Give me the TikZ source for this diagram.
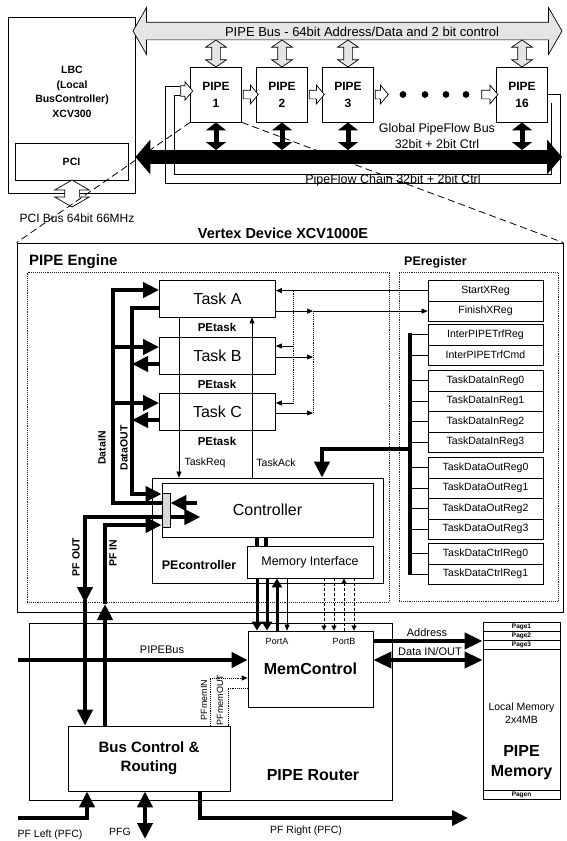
\documentclass[tikz,border=0pt]{standalone}
\usepackage{fontspec}
\setmainfont{Liberation Sans}
\usepackage{tikz}
\usetikzlibrary{shapes.arrows, arrows.meta, positioning, calc}

\begin{document}
\begin{tikzpicture}[
  x=1pt, y=-1pt,
  box/.style     = {rectangle, draw=black, line width=0.8pt, inner sep=0pt},
  dotbox/.style  = {rectangle, draw=black!85, line width=0.9pt, densely dotted, inner sep=0pt},
  lbl/.style     = {inner sep=0pt, font=\fontsize{#1}{#1}\selectfont},
  lblb/.style    = {inner sep=0pt, font=\bfseries\fontsize{#1}{#1}\selectfont},
  pipebox/.style = {box, minimum width=51pt, minimum height=55pt, align=center,
                    font=\bfseries\fontsize{12}{17}\selectfont},
  taskbox/.style = {box, minimum width=116pt, minimum height=37pt, font=\fontsize{16}{16}\selectfont},
  reg/.style     = {box, line width=0.7pt, anchor=north, minimum width=115pt, minimum height=20.5pt,
                    font=\fontsize{10.5}{10.5}\selectfont},
  pagerow/.style = {box, line width=0.6pt, anchor=north, minimum width=77pt, minimum height=9pt,
                    font=\bfseries\fontsize{6.5}{6.5}\selectfont},
  hollow/.style  = {draw=black, line width=0.7pt, fill=white},
  vlink/.style   = {hollow, fill=gray!20, double arrow, rotate=90, inner xsep=0pt, inner ysep=4pt,
                    double arrow head extend=6pt, double arrow tip angle=110, minimum height=#1},
  hlink/.style   = {hollow, single arrow, inner xsep=0pt, inner ysep=4pt,
                    single arrow head extend=5pt, single arrow tip angle=100, minimum height=#1},
  flowchain/.style = {line width=0.7pt, double=white, double distance=8pt},
  gbus/.style    = {line width=14pt, {Triangle[length=15pt,width=34pt]}-{Triangle[length=15pt,width=34pt]}},
  vbus/.style    = {line width=5pt, {Triangle[length=8pt,width=20pt]}-{Triangle[length=8pt,width=20pt]}},
  bigline/.style = {line width=4pt},
  bigarr/.style  = {line width=4pt, -{Triangle[length=16pt,width=15pt]}},
  bigdbl/.style  = {line width=4pt, {Triangle[length=16pt,width=15pt]}-{Triangle[length=16pt,width=15pt]}},
  memarr/.style  = {line width=4pt, -{Triangle[length=18pt,width=16pt]}},
  memdbl/.style  = {line width=4pt, {Triangle[length=18pt,width=16pt]}-{Triangle[length=18pt,width=16pt]}},
  portarr/.style = {line width=3pt, -{Triangle[length=9pt,width=10pt]}},
  sig/.style     = {line width=0.6pt},
  sigdot/.style  = {line width=0.9pt, densely dotted},
  sigarr/.style  = {line width=0.6pt, -{Triangle[length=6pt,width=5pt]}},
  dotarr/.style  = {sigdot, -{Triangle[length=6pt,width=5pt]}},
  dasharr/.style = {line width=0.7pt, densely dashed, -{Triangle[length=5pt,width=5pt]}},
]
  \useasboundingbox (0,0) rectangle (567,841);

  % local bus controller
  \node[box, minimum width=127pt, minimum height=176pt] (lbc) at (71.5,105) {};
  \node[align=center, inner sep=0pt, font=\bfseries\fontsize{10.5}{14.5}\selectfont] (lbctxt) at (72,92)
    {LBC\\(Local\\BusController)\\XCV300};
  \node[box, minimum width=113pt, minimum height=37pt, lblb=10.5] (pci) at (71.5,161.5) {PCI};
  \node[hollow, double arrow, rotate=90, inner xsep=0pt, inner ysep=7pt, double arrow head extend=10pt,
        double arrow tip angle=120, minimum height=27pt] (pcibus) at (72,193.5) {};
  \node[lbl=12] (pcibuslbl) at (77,218) {PCI Bus 64bit 66MHz};

  % PIPE bus
  \node[hollow, fill=gray!20, double arrow, inner xsep=0pt, inner ysep=8.5pt, double arrow head extend=14.5pt,
        double arrow tip angle=120, minimum height=429pt] (pipebus) at (347.5,31) {};
  \node[lbl=13] (pipebuslbl) at (362,32) {PIPE Bus - 64bit Address/Data and 2 bit control};

  % the PIPEs
  \node[pipebox] (pipe1)  at (216,94.5) {PIPE\\1};
  \node[pipebox] (pipe2)  at (282,94.5) {PIPE\\2};
  \node[pipebox] (pipe3)  at (348,94.5) {PIPE\\3};
  \node[pipebox] (pipe16) at (522,94.5) {PIPE\\16};

  \node[vlink=27pt] (pb1)  at (216,53.5) {};
  \node[vlink=27pt] (pb2)  at (282,53.5) {};
  \node[vlink=27pt] (pb3)  at (348,53.5) {};
  \node[vlink=27pt] (pb16) at (522,53.5) {};

  \node[hlink=15pt] (a12)  at (249,94.5) {};
  \node[hlink=15pt] (a23)  at (315,94.5) {};
  \node[hlink=13pt] (a3d)  at (380,94.5) {};
  \node[hlink=16pt] (ad16) at (488,94.5) {};
  \node[circle, fill, inner sep=2.4pt] (dot1) at (403,94.5) {};
  \node[circle, fill, inner sep=2.4pt] (dot2) at (425,94.5) {};
  \node[circle, fill, inner sep=2.4pt] (dot3) at (446,94.5) {};
  \node[circle, fill, inner sep=2.4pt] (dot4) at (466,94.5) {};

  % PipeFlow chain
  \node[hollow, single arrow, inner xsep=0pt, inner ysep=4.85pt, single arrow head extend=4pt,
        single arrow tip angle=100, minimum height=12pt] (chainin) at (184.5,91) {};
  \draw[flowchain] ([yshift=-4pt]pipe16.east) -| (556,179) -| (170,91) -- (chainin.west);
  \node[lbl=12.5, anchor=base] (chainlbl) at (393,183.5) {PipeFlow Chain 32bit + 2bit Ctrl};

  % global PipeFlow bus
  \coordinate (gbusend) at (562,157);
  \coordinate (gbustop) at (300,150);
  \draw[gbus] (lbc.east |- gbusend) -- (gbusend);
  \draw[vbus] (pipe1.south)  -- (pipe1.south |- gbustop);
  \draw[vbus] (pipe2.south)  -- (pipe2.south |- gbustop);
  \draw[vbus] (pipe3.south)  -- (pipe3.south |- gbustop);
  \draw[vbus] (pipe16.south) -- (pipe16.south |- gbustop);
  \node[align=center, inner sep=0pt, font=\fontsize{12.5}{15.5}\selectfont] (gbuslbl) at (437,136)
    {Global PipeFlow Bus\\32bit + 2bit Ctrl};

  % Vertex device
  \node[box, minimum width=546pt, minimum height=369pt] (vertex) at (290,427.5) {};
  \node[lblb=14.5] (vertexlbl) at (283,233) {Vertex Device XCV1000E};
  \draw[line width=0.8pt, dash pattern=on 7pt off 4pt] (pipe1.south west) -- (vertex.north west);
  \draw[line width=0.8pt, dash pattern=on 7pt off 4pt] (pipe1.south east) -- (vertex.north east);

  \node[dotbox, minimum width=362pt, minimum height=330pt] (engine) at (208,437) {};
  \node[lblb=15, anchor=west] (enginelbl) at (29,262) {PIPE Engine};
  \node[dotbox, minimum width=159pt, minimum height=329pt] (peregbox) at (478.5,436.5) {};
  \node[lblb=12.5, anchor=west] (pereglbl) at (404,262) {PEregister};

  % registers
  \node[reg] (startx)  at (485.5,280)   {StartXReg};
  \node[reg] (finishx) at (485.5,300.5) {FinishXReg};
  \node[reg] (ipreg)   at (485.5,324)   {InterPIPETrfReg};
  \node[reg] (ipcmd)   at (485.5,344.5) {InterPIPETrfCmd};
  \node[reg] (din0)    at (485.5,370)   {TaskDataInReg0};
  \node[reg] (din1)    at (485.5,390.5) {TaskDataInReg1};
  \node[reg] (din2)    at (485.5,411)   {TaskDataInReg2};
  \node[reg] (din3)    at (485.5,431.5) {TaskDataInReg3};
  \node[reg] (dout0)   at (485.5,457)   {TaskDataOutReg0};
  \node[reg] (dout1)   at (485.5,477.5) {TaskDataOutReg1};
  \node[reg] (dout2)   at (485.5,498)   {TaskDataOutReg2};
  \node[reg] (dout3)   at (485.5,518.5) {TaskDataOutReg3};
  \node[reg] (dctl0)   at (485.5,543)   {TaskDataCtrlReg0};
  \node[reg] (dctl1)   at (485.5,563.5) {TaskDataCtrlReg1};

  \coordinate (rbtop) at (410,333);
  \coordinate (rbbot) at (410,575);
  \coordinate (rbtap) at (410,449);
  \draw[line width=3.5pt] (rbtop) -- (rbbot);
  \draw[sig] (rbtop |- ipreg) -- (ipreg);   \draw[sig] (rbtop |- ipcmd) -- (ipcmd);
  \draw[sig] (rbtop |- din0) -- (din0);     \draw[sig] (rbtop |- din1) -- (din1);
  \draw[sig] (rbtop |- din2) -- (din2);     \draw[sig] (rbtop |- din3) -- (din3);
  \draw[sig] (rbtop |- dout0) -- (dout0);   \draw[sig] (rbtop |- dout1) -- (dout1);
  \draw[sig] (rbtop |- dout2) -- (dout2);   \draw[sig] (rbtop |- dout3) -- (dout3);
  \draw[sig] (rbtop |- dctl0) -- (dctl0);   \draw[sig] (rbtop |- dctl1) -- (dctl1);

  % tasks
  \node[taskbox] (taska) at (217.5,298.5) {Task A};
  \node[taskbox] (taskb) at (217.5,355.5) {Task B};
  \node[taskbox] (taskc) at (217.5,411.5) {Task C};
  \node[lblb=11.5] (petaska) at (217,327.5) {PEtask};
  \node[lblb=11.5] (petaskb) at (217,384)   {PEtask};
  \node[lblb=11.5] (petaskc) at (217,441)   {PEtask};

  % controller
  \node[box, minimum width=231pt, minimum height=105pt] (pectrl) at (267.5,530.5) {};
  \node[box, minimum width=211pt, minimum height=54pt, lbl=16] (ctrl) at (267.5,510) {Controller};
  \node[box, fill=gray!30, minimum width=8pt, minimum height=34pt] (mux) at (166,510) {};
  \node[lblb=12.5] (pectrllbl) at (199,565) {PEcontroller};
  \node[box, minimum width=126pt, minimum height=32pt, lbl=12.5] (meminf) at (310,562) {Memory Interface};
  \draw[line width=3.5pt] (ctrl.south -| 257,0) -- (meminf.north -| 257,0);
  \draw[line width=3.5pt] (ctrl.south -| 266,0) -- (meminf.north -| 266,0);

  % start / finish
  \draw[sigarr] (startx) -- (taska.east |- startx);
  \draw[sigdot] (startx -| 293,0) -- (293,403);
  \draw[sigarr] (293,346) -- (taskb.east |- 0,346);
  \draw[sigarr] (293,403) -- (taskc.east |- 0,403);
  \draw[sigarr] (taska.east |- finishx) -- (finishx -| 313,0);
  \draw[sigarr] (finishx -| 313,0) -- (finishx);
  \draw[sigdot] (finishx -| 313,0) -- (313,413);
  \draw[sigarr] (taskb.east |- 0,357) -- (313,357);
  \draw[sigarr] (taskc.east |- 0,413) -- (313,413);

  \draw[sigarr] (taska.south -| 179,0) -- (pectrl.north -| 179,0);
  \draw[sigarr] (pectrl.north -| 252,0) -- (taska.south -| 252,0);
  \node[lbl=10.5] (taskreqlbl) at (205,463) {TaskReq};
  \node[lbl=10.5] (taskacklbl) at (276,463) {TaskAck};

  \draw[bigarr] (rbtap) -| ([xshift=54.5pt]pectrl.north);

  % data in / out
  \draw[bigarr] (mux.west |- 0,503) -- (113,503) -- (113,290) -- (taska.west |- 0,290);
  \draw[bigarr] (113,347) -- (taskb.west |- 0,347);
  \draw[bigarr] (113,403) -- (taskc.west |- 0,403);
  \draw[bigarr] (taska.west |- 0,308) -| (132,494) -- (mux.west |- 0,494);
  \draw[bigarr] (taskb.west |- 0,364) -- (132,364);
  \draw[bigarr] (taskc.west |- 0,420) -- (132,420);
  \draw[bigarr] ([shift={(27pt,7pt)}]mux.east) -- ([yshift=7pt]mux.east);
  \node[lblb=10.5, rotate=90] (datainlbl)  at (102,448) {DataIN};
  \node[lblb=10.5, rotate=90] (dataoutlbl) at (124,448) {DataOUT};

  % PIPE router
  \node[box, minimum width=363pt, minimum height=177pt] (router) at (210.5,711.5) {};
  \node[box, minimum width=125pt, minimum height=76pt, lblb=16] (memctrl) at (310.5,669) {MemControl};
  \node[lbl=9] (portalbl) at (277,641) {PortA};
  \node[lbl=9] (portblbl) at (344,641) {PortB};
  \node[lblb=16] (routerlbl) at (313,775) {PIPE Router};
  \node[box, minimum width=162pt, minimum height=65pt, align=center,
        font=\bfseries\fontsize{15}{19}\selectfont] (busctrl) at (149,758.5) {Bus Control \&\\Routing};

  % PF out / in
  \draw[bigarr] (mux.west |- 0,517) -| (85,603);
  \draw[bigarr] (85,600) -- (busctrl.north -| 85,0);
  \draw[bigarr] (mux.east |- 0,517) -- ([shift={(30pt,-7pt)}]mux.east);
  \draw[bigarr] (busctrl.north -| 105,0) -- (105,604);
  \draw[bigarr] (105,604) |- (mux.west |- 0,525);
  \node[lblb=10.5, rotate=90] (pfoutlbl) at (76,557) {PF OUT};
  \node[lblb=10.5, rotate=90] (pfinlbl)  at (113,553) {PF IN};

  % memory interface to MemControl
  \draw[portarr] (meminf.south -| 257,0) -- (memctrl.north -| 257,0);
  \draw[portarr] (meminf.south -| 267,0) -- (memctrl.north -| 267,0);
  \draw[portarr] (memctrl.north -| 277,0) -- (meminf.south -| 277,0);
  \draw[sigarr]  (meminf.south -| 287,0) -- (memctrl.north -| 287,0);
  \draw[dasharr] (meminf.south -| 324,0) -- (memctrl.north -| 324,0);
  \draw[dasharr] (meminf.south -| 334,0) -- (memctrl.north -| 334,0);
  \draw[dasharr] (memctrl.north -| 344,0) -- (meminf.south -| 344,0);
  \draw[dasharr] (meminf.south -| 354,0) -- (memctrl.north -| 354,0);

  % PIPEBus and PF memory lines
  \coordinate (pipebusin) at (18,660);
  \draw[bigarr] (pipebusin) -- (memctrl.west |- pipebusin);
  \node[lbl=11] (pipebuslbl2) at (162,650) {PIPEBus};
  \draw[dotarr] (busctrl.north -| 210,0) |- (memctrl.west |- 0,678);
  \draw[sigdot] (memctrl.west |- 0,688) -| (busctrl.north -| 228,0);
  \node[lbl=9, rotate=90] (pfmeminlbl)  at (204,700) {PFmemIN};
  \node[lbl=9, rotate=90] (pfmemoutlbl) at (220,700) {PFmemOUT};

  % PF left / right / PFG
  \coordinate (pfleftin) at (18,818);
  \coordinate (pfgout) at (145,839);
  \coordinate (pfrightout) at (468,818);
  \draw[bigarr] (pfleftin) -| (busctrl.south -| 87,0);
  \draw[bigdbl] (busctrl.south -| 145,0) -- (pfgout);
  \draw[bigarr] (busctrl.south -| 200,0) |- (pfrightout);
  \node[lbl=10.5] (pfleftlbl)  at (50,835)  {PF Left (PFC)};
  \node[lbl=10.5] (pfglbl)     at (120,832) {PFG};
  \node[lbl=10.5] (pfrightlbl) at (306,831) {PF Right (PFC)};

  % PIPE memory
  \node[box, minimum width=77pt, minimum height=177pt] (pipemem) at (521.5,710.5) {};
  \node[pagerow] (page1) at (521.5,622) {Page1};
  \node[pagerow] (page2) at (521.5,631) {Page2};
  \node[pagerow] (page3) at (521.5,640) {Page3};
  \node[pagerow] (pagen) at (521.5,790) {Pagen};
  \node[align=center, inner sep=0pt, font=\fontsize{10.5}{12.5}\selectfont] (localmem) at (521.5,713)
    {Local Memory\\2x4MB};
  \node[align=center, inner sep=0pt, font=\bfseries\fontsize{16}{20}\selectfont] (pipememlbl) at (521.5,763)
    {PIPE\\Memory};

  \draw[memarr] (memctrl.east |- 0,641) -- (pipemem.west |- 0,641);
  \draw[memdbl] (memctrl.east |- 0,660) -- (pipemem.west |- 0,660);
  \node[lbl=11] (addrlbl) at (427,633) {Address};
  \node[lbl=11] (datalbl) at (430,652) {Data IN/OUT};
\end{tikzpicture}
\end{document}
